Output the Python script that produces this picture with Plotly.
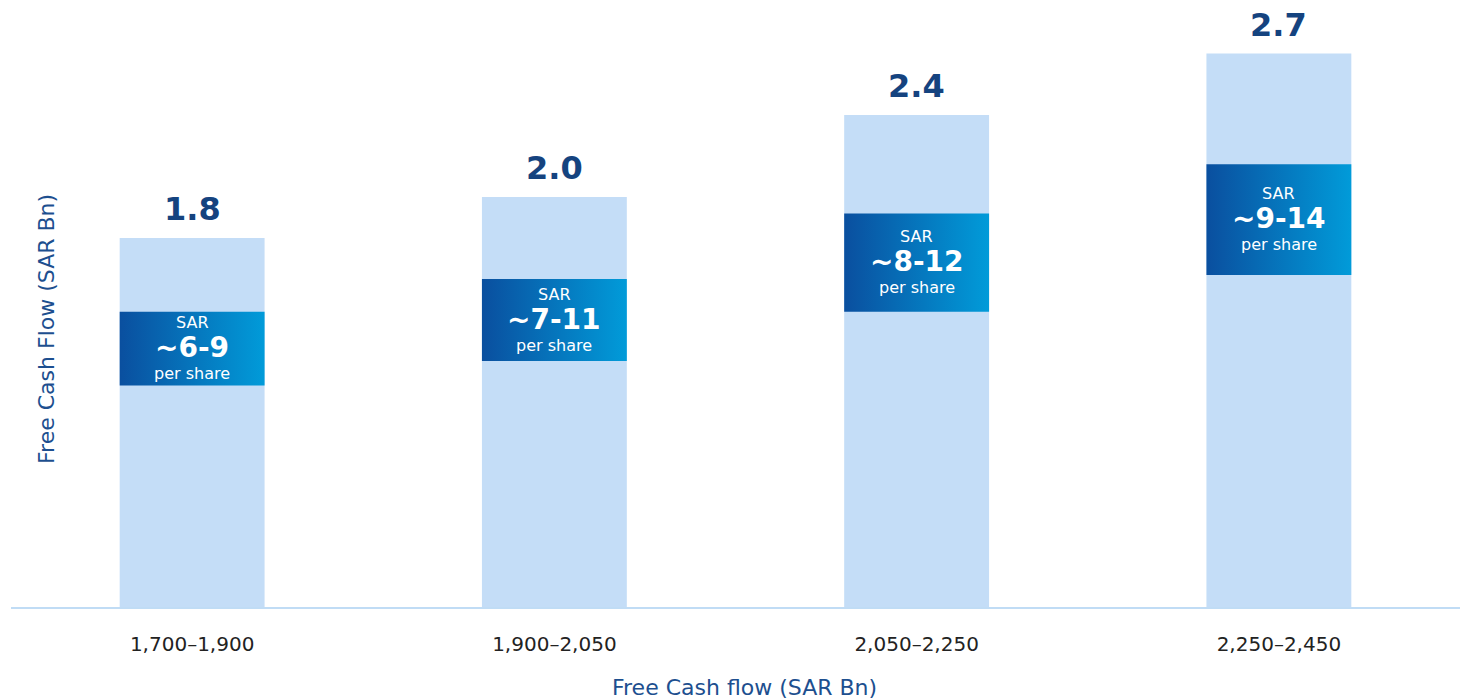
import plotly.graph_objects as go

# Free cash flow scenarios (SAR Bn ranges) and resulting value per share
categories = ["1,700–1,900", "1,900–2,050", "2,050–2,250", "2,250–2,450"]
fcf_values = [1.8, 2.0, 2.4, 2.7]
per_share = ["~6-9", "~7-11", "~8-12", "~9-14"]

BAR_COLOR = "#c4ddf7"
NAVY = "#15437f"
TITLE_BLUE = "#1d4f8f"
BAR_WIDTH = 0.4
BADGE_CENTER = 0.70   # badge centre as a fraction of bar height
BADGE_HALF = 0.10     # badge half-height as a fraction of bar height

x_pos = list(range(len(categories)))

fig = go.Figure()

fig.add_trace(go.Bar(
    x=x_pos, y=fcf_values, width=BAR_WIDTH,
    marker=dict(color=BAR_COLOR, line=dict(width=0)),
    hoverinfo="skip", showlegend=False,
))

annotations = []
for i, (v, label) in enumerate(zip(fcf_values, per_share)):
    lo = v * (BADGE_CENTER - BADGE_HALF)
    hi = v * (BADGE_CENTER + BADGE_HALF)
    x0, x1 = i - BAR_WIDTH / 2, i + BAR_WIDTH / 2
    fig.add_trace(go.Scatter(
        x=[x0, x1, x1, x0, x0], y=[lo, lo, hi, hi, lo],
        mode="lines", line=dict(width=0), fill="toself",
        fillgradient=dict(type="horizontal",
                          colorscale=[[0, "#0a4f9f"], [1, "#019bd9"]]),
        hoverinfo="skip", showlegend=False,
    ))
    # value above the bar
    annotations.append(dict(
        x=i, y=v, xref="x", yref="y", text=f"<b>{v:.1f}</b>",
        showarrow=False, yanchor="bottom", yshift=8,
        font=dict(family="DejaVu Sans", size=32, color=NAVY),
    ))
    mid = v * BADGE_CENTER
    annotations.append(dict(
        x=i, y=mid, xref="x", yref="y", text="SAR", showarrow=False,
        yshift=26, font=dict(family="DejaVu Sans", size=16, color="white"),
    ))
    annotations.append(dict(
        x=i, y=mid, xref="x", yref="y", text=f"<b>{label}</b>", showarrow=False,
        yshift=1, font=dict(family="DejaVu Sans", size=28, color="white"),
    ))
    annotations.append(dict(
        x=i, y=mid, xref="x", yref="y", text="per share", showarrow=False,
        yshift=-25, font=dict(family="DejaVu Sans", size=16, color="white"),
    ))

annotations.append(dict(
    x=0.0248, y=0.458, xref="paper", yref="paper",
    xanchor="center", yanchor="middle",
    text="Free Cash Flow (SAR Bn)", textangle=-90, showarrow=False,
    font=dict(family="DejaVu Sans", size=22, color=TITLE_BLUE),
))
annotations.append(dict(
    x=0.506, y=-0.133, xref="paper", yref="paper",
    xanchor="center", yanchor="middle",
    text="Free Cash flow (SAR Bn)", showarrow=False,
    font=dict(family="DejaVu Sans", size=22, color=TITLE_BLUE),
))

fig.update_layout(
    width=1460, height=700,
    margin=dict(l=11, r=0, t=0, b=93),
    paper_bgcolor="white", plot_bgcolor="white",
    annotations=annotations,
    xaxis=dict(
        range=[-0.5, len(categories) - 0.5],
        tickmode="array", tickvals=x_pos, ticktext=categories,
        showgrid=False, zeroline=False,
        showline=True, linecolor="#c0dcf5", linewidth=2,
        ticks="outside", ticklen=18, tickcolor="rgba(0,0,0,0)",
        tickfont=dict(family="DejaVu Sans", size=20, color="#222222"),
        fixedrange=True,
    ),
    yaxis=dict(
        range=[0, 607 / 205], visible=False, showgrid=False, zeroline=False,
        fixedrange=True,
    ),
    showlegend=False,
)

fig.write_html("out.html")
